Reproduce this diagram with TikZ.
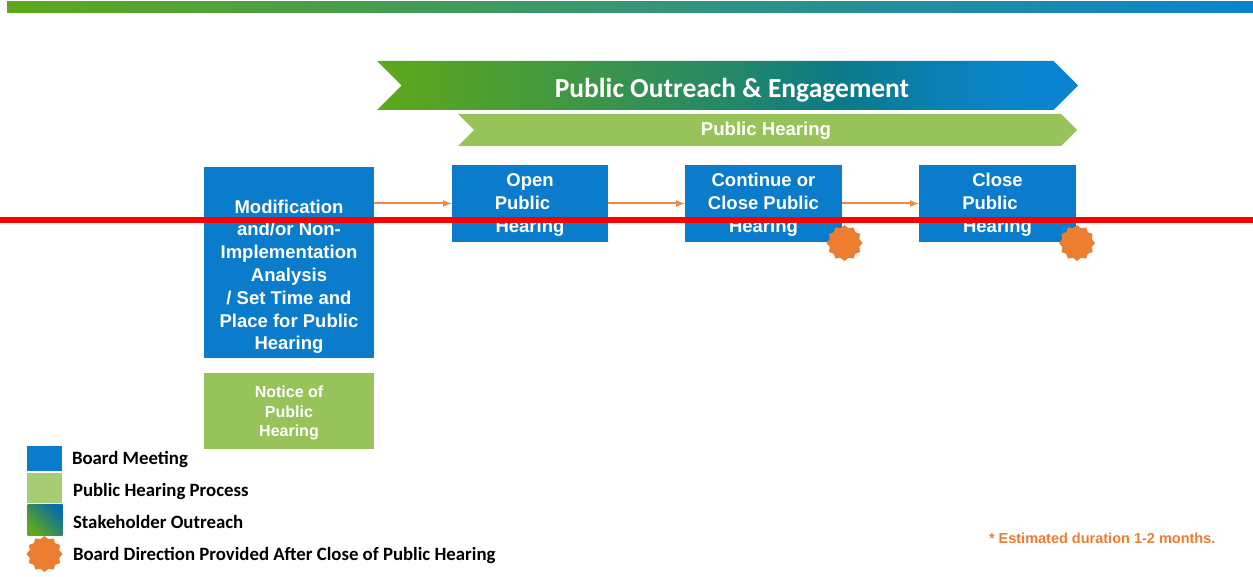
\documentclass[tikz,border=0pt]{standalone}
\usepackage{fontspec}
\setmainfont{Liberation Sans}
\newfontfamily\calibrifont{Carlito}
\usetikzlibrary{positioning,shapes.geometric,shapes.symbols}
\definecolor{boardblue}{HTML}{0B7CCB}
\definecolor{hearinggreen}{HTML}{98C35A}
\definecolor{legendgreen}{HTML}{A6CD73}
\definecolor{outreachgreen}{HTML}{5FA81A}
\definecolor{outreachteal}{HTML}{0B7A88}
\definecolor{outreachblue}{HTML}{0A84D0}
\definecolor{directionorange}{HTML}{ED7D31}
\pgfdeclarehorizontalshading{outreachshade}{100bp}{
    color(0bp)=(outreachgreen);
    color(25bp)=(outreachgreen);
    color(40bp)=(outreachgreen!60!outreachteal);
    color(50bp)=(outreachgreen!30!outreachteal);
    color(58bp)=(outreachteal);
    color(66bp)=(outreachblue!70!outreachteal);
    color(72bp)=(outreachblue);
    color(100bp)=(outreachblue)
}

\begin{document}
\begin{tikzpicture}[
                    x=1pt,
                    y=-1pt,
                    semithick,
                    node distance=10pt
                ]
                \tikzstyle{every node}=[
                    inner sep=0pt,
                    outer sep=0pt
                ]
                \tikzstyle{board}=[
                    rectangle,
                    fill=boardblue,
                    text=white,
                    align=center,
                    font=\bfseries\fontsize{18.5}{22.8}\selectfont
                ]
                \tikzstyle{flow}=[
                    color=directionorange!90!white,
                    line width=2pt,
                    -latex
                ]
                \tikzstyle{direction}=[
                    star,
                    star points=12,
                    star point ratio=1.18,
                    fill=directionorange,
                    minimum size=36pt
                ]
                \tikzstyle{swatch}=[
                    rectangle,
                    minimum width=35pt
                ]
                \tikzstyle{legend}=[
                    text=black,
                    font=\calibrifont\bfseries\fontsize{18.8}{22}\selectfont
                ]

                \useasboundingbox (0,0) rectangle (1253,577);
                \fill[white] (0,0) rectangle (1253,577);

                \node[rectangle, minimum width=1246pt, minimum height=11pt,
                      left color=outreachgreen, right color=outreachblue]
                      (topbar) at (630,7.5) {};

                \node[signal, signal to=east, signal from=west,
                      minimum width=701pt, minimum height=49pt,
                      shading=outreachshade]
                      (outreach) at (727.5,85.5) {};
                \node[text=white, font=\calibrifont\bfseries\fontsize{27.5}{30}\selectfont]
                      (outreachtext) at (732,90) {Public Outreach \& Engagement};

                \node[signal, signal to=east, signal from=west,
                      minimum width=619pt, minimum height=32pt, fill=hearinggreen]
                      (hearing) at (767.5,130) {};
                \node[text=white, font=\bfseries\fontsize{18.6}{22}\selectfont]
                      (hearingtext) at (766,131) {Public Hearing};

                \node[board, minimum width=170pt, minimum height=191pt]
                      (analysis) at (289,262.5)
                      {\rule{0pt}{42pt}Modification\\and/or Non-\\Implementation\\Analysis\\/ Set Time and\\Place for Public\\Hearing};
                \node[board, minimum width=156pt, minimum height=77pt]
                      (open) at (530,203.5) {\rule{0pt}{16pt}Open\\Public\rule{15pt}{0pt}\\Hearing};
                \node[board, minimum width=157pt, minimum height=77pt]
                      (continue) at (763.5,203.5) {\rule{0pt}{16pt}Continue or\\Close Public\\Hearing};
                \node[board, minimum width=157pt, minimum height=77pt]
                      (close) at (997.5,203.5) {\rule{0pt}{16pt}Close\\Public\rule{15pt}{0pt}\\Hearing};
                \node[rectangle, fill=hearinggreen, text=white, align=center,
                      minimum width=170pt, minimum height=76pt,
                      font=\bfseries\fontsize{16}{19.5}\selectfont]
                      (notice) at (289,411) {\rule{0pt}{16pt}Notice of\\Public\\Hearing};

                \path
                (analysis.east |- open.west) edge [flow] (open.west)
                (open.east) edge [flow] (continue.west)
                (continue.east) edge [flow] (close.west)
                ;

                \coordinate (redleft) at (0,220);
                \coordinate (redright) at (1253,220);
                \draw[red, line width=5.5pt] (redleft) -- (redright);

                \node[direction] (continuedirection) at (844.5,243) {};
                \node[direction] (closedirection) at (1077,243) {};

                % legend
                \node[swatch, fill=boardblue, minimum height=25pt] (boardswatch) at (44.5,458.5) {};
                \node[swatch, fill=legendgreen, minimum height=30pt] (processswatch) at (44.5,488) {};
                \node[swatch, minimum height=31pt,
                      left color=outreachgreen, middle color=outreachteal, right color=outreachblue!80!black,
                      shading angle=135]
                      (outreachswatch) at (45,519.5) {};
                \node[direction] (legenddirection) at (44.5,554) {};

                \node[legend, anchor=west] (boardlabel) at (72,459) {Board Meeting};
                \node[legend, anchor=west] (processlabel) at (73,491) {Public Hearing Process};
                \node[legend, anchor=west] (outreachlabel) at (73,522) {Stakeholder Outreach};
                \node[legend, anchor=west] (directionlabel) at (73,555) {Board Direction Provided After Close of Public Hearing};

                \node[text=directionorange, anchor=west, font=\bfseries\fontsize{14.5}{17}\selectfont]
                      (duration) at (989,538) {* Estimated duration 1-2 months.};
            \end{tikzpicture}
\end{document}
